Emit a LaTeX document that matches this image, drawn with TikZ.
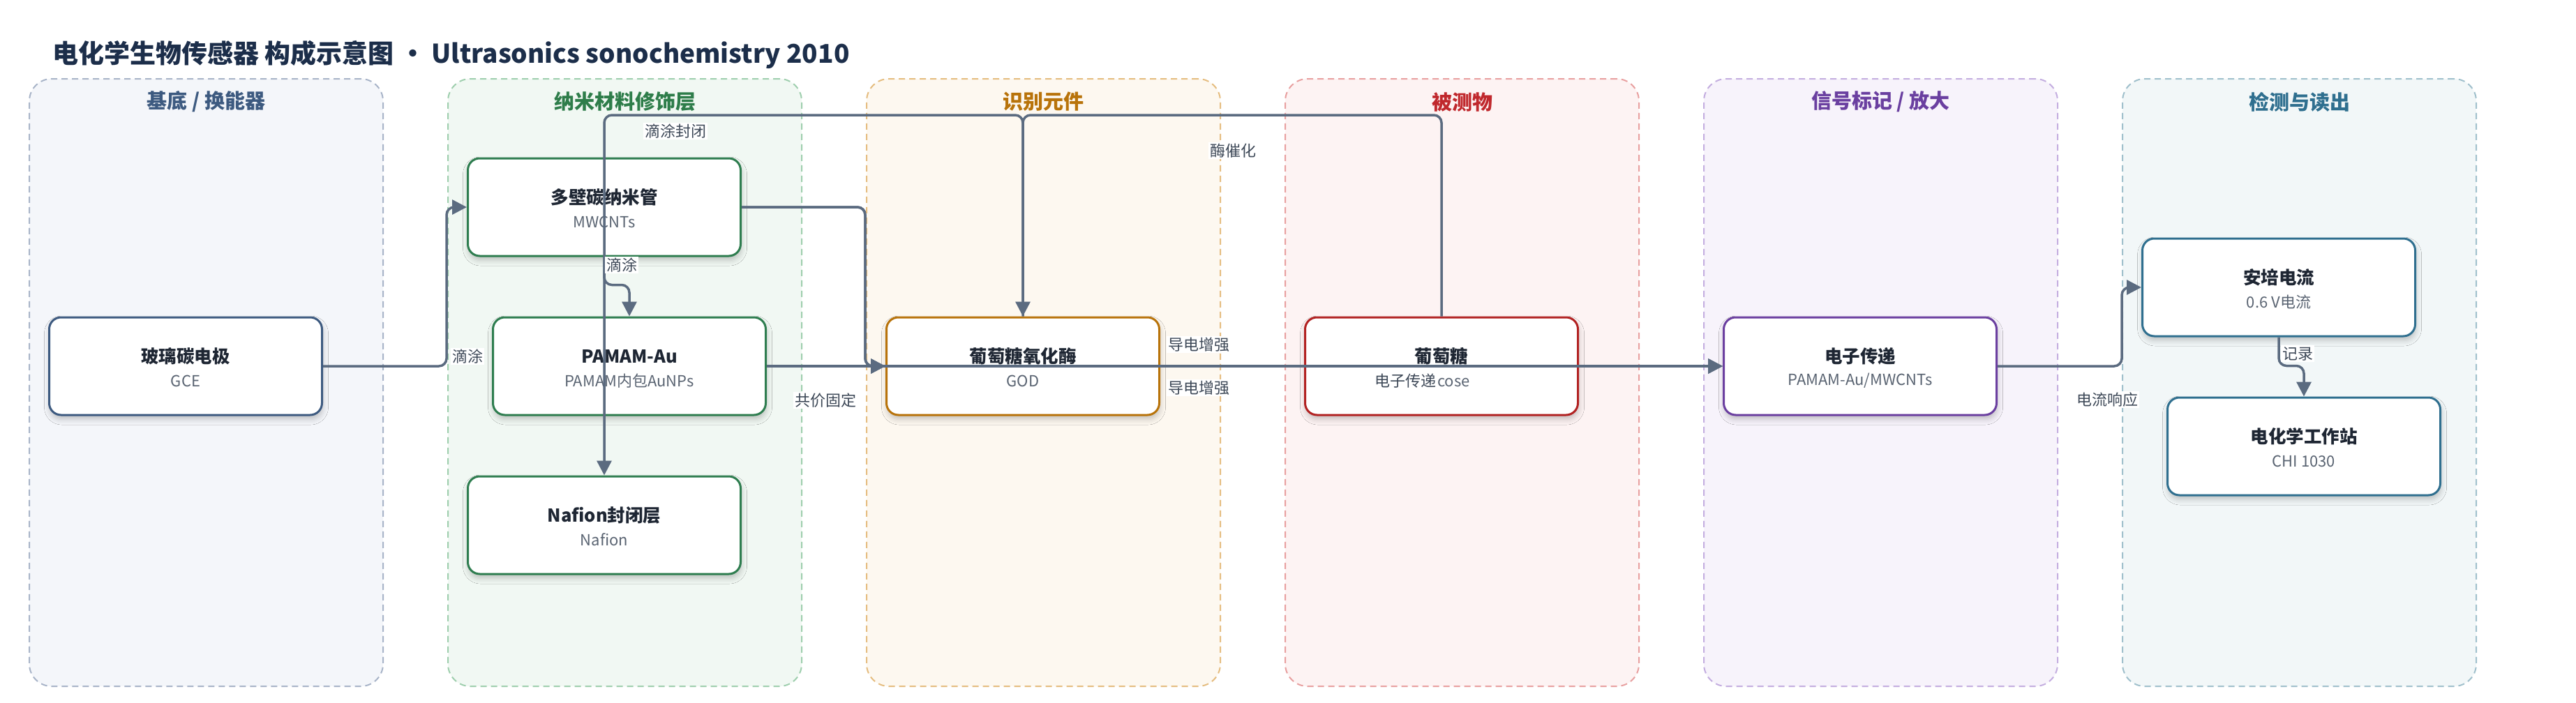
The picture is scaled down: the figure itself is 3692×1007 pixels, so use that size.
\documentclass[tikz,border=0pt]{standalone}
\usepackage{fontspec}
\setmainfont{Noto Sans CJK SC}
\usetikzlibrary{arrows.meta,shadows.blur,calc}
\definecolor{titlec}{HTML}{1C2E4A}
\definecolor{nodet}{HTML}{1E2633}
\definecolor{subc}{HTML}{5A6472}
\definecolor{labc}{HTML}{3D4857}
\definecolor{edgec}{HTML}{5B6B80}
\definecolor{l1f}{HTML}{F4F6FA}\definecolor{l1b}{HTML}{A8B4C8}\definecolor{l1t}{HTML}{3D5A80}
\definecolor{l2f}{HTML}{F1F8F3}\definecolor{l2b}{HTML}{9FCFAE}\definecolor{l2t}{HTML}{2E7D4A}
\definecolor{l3f}{HTML}{FDF8F0}\definecolor{l3b}{HTML}{E5BD80}\definecolor{l3t}{HTML}{B8730A}
\definecolor{l4f}{HTML}{FDF3F3}\definecolor{l4b}{HTML}{E8A0A0}\definecolor{l4t}{HTML}{C0282D}
\definecolor{l5f}{HTML}{F7F3FB}\definecolor{l5b}{HTML}{C4AEE0}\definecolor{l5t}{HTML}{6A3FA0}
\definecolor{l6f}{HTML}{F2F7F8}\definecolor{l6b}{HTML}{A0C0CC}\definecolor{l6t}{HTML}{2F6F8F}
\definecolor{n1}{HTML}{3D5A80}
\definecolor{n2}{HTML}{2E7D4F}
\definecolor{n3}{HTML}{B8730A}
\definecolor{n4}{HTML}{B22222}
\definecolor{n5}{HTML}{6B3FA0}
\definecolor{n6}{HTML}{2F6F8F}
\begin{document}
\begin{tikzpicture}[x=1pt,y=-1pt,
  lane/.style={rectangle, rounded corners=32pt, line width=2pt, dash pattern=on 9pt off 6pt, minimum width=507pt, minimum height=871pt, inner sep=0pt},
  lanettl/.style={font=\fontsize{29}{34}\selectfont\bfseries, inner sep=0pt},
  box/.style={rectangle, rounded corners=17pt, minimum width=391pt, minimum height=140pt, line width=3pt, fill=white, inner sep=0pt,
    blur shadow={shadow xshift=1pt, shadow yshift=-6pt, shadow blur radius=8pt, shadow opacity=22}},
  ttl/.style={font=\fontsize{25.5}{30}\selectfont\bfseries, text=nodet, inner sep=0pt},
  sub/.style={font=\fontsize{22}{26}\selectfont, text=subc, inner sep=0pt},
  conn/.style={draw=edgec, line width=3.5pt, rounded corners=11pt, -{Triangle[length=21pt,width=21pt]}},
  elab/.style={font=\fontsize{22}{26}\selectfont, text=labc, fill=white, inner sep=2pt}
]
\useasboundingbox[fill=white] (0,0) rectangle (3692,1007);

% title
\node[anchor=west, font=\fontsize{37}{44}\selectfont\bfseries, text=titlec, inner sep=0pt] (title) at (75,78)
  {电化学生物传感器 构成示意图 · Ultrasonics sonochemistry 2010};

% lanes
\node[lane, draw=l1b, fill=l1f] (lane1) at (295.5,548.5) {};
\node[lane, draw=l2b, fill=l2f] (lane2) at (895.5,548.5) {};
\node[lane, draw=l3b, fill=l3f] (lane3) at (1495.5,548.5) {};
\node[lane, draw=l4b, fill=l4f] (lane4) at (2095.5,548.5) {};
\node[lane, draw=l5b, fill=l5f] (lane5) at (2695.5,548.5) {};
\node[lane, draw=l6b, fill=l6f] (lane6) at (3295.5,548.5) {};
\node[lanettl, text=l1t] (lt1) at (295.5,146) {基底 / 换能器};
\node[lanettl, text=l2t] (lt2) at (895.5,146) {纳米材料修饰层};
\node[lanettl, text=l3t] (lt3) at (1495.5,146) {识别元件};
\node[lanettl, text=l4t] (lt4) at (2095.5,146) {被测物};
\node[lanettl, text=l5t] (lt5) at (2695.5,146) {信号标记 / 放大};
\node[lanettl, text=l6t] (lt6) at (3295.5,146) {检测与读出};

% boxes
\node[box, draw=n1] (gce) at (266,525) {};
\node[box, draw=n2] (mwcnt) at (866,297) {};
\node[box, draw=n2] (pamam) at (902,525) {};
\node[box, draw=n2] (nafion) at (866,753) {};
\node[box, draw=n3] (god) at (1466,525) {};
\node[box, draw=n4] (glu) at (2066,525) {};
\node[box, draw=n5] (etrans) at (2666,525) {};
\node[box, draw=n6] (amp) at (3266,412) {};
\node[box, draw=n6] (chi) at (3302,640) {};

\node[ttl] (gce-t) at ($(gce)+(0,-14)$) {玻璃碳电极};
\node[sub] (gce-s) at ($(gce)+(0,21)$) {GCE};
\node[ttl] (mwcnt-t) at ($(mwcnt)+(0,-14)$) {多壁碳纳米管};
\node[sub] (mwcnt-s) at ($(mwcnt)+(0,21)$) {MWCNTs};
\node[ttl] (pamam-t) at ($(pamam)+(0,-14)$) {PAMAM-Au};
\node[sub] (pamam-s) at ($(pamam)+(0,21)$) {PAMAM内包AuNPs};
\node[ttl] (nafion-t) at ($(nafion)+(0,-14)$) {Nafion封闭层};
\node[sub] (nafion-s) at ($(nafion)+(0,21)$) {Nafion};
\node[ttl] (god-t) at ($(god)+(0,-14)$) {葡萄糖氧化酶};
\node[sub] (god-s) at ($(god)+(0,21)$) {GOD};
\node[ttl] (glu-t) at ($(glu)+(0,-14)$) {葡萄糖};
\node[sub] (glu-s) at ($(glu)+(0,21)$) {Glucose};
\node[ttl] (etrans-t) at ($(etrans)+(0,-14)$) {电子传递};
\node[sub] (etrans-s) at ($(etrans)+(0,21)$) {PAMAM-Au/MWCNTs};
\node[ttl] (amp-t) at ($(amp)+(0,-14)$) {安培电流};
\node[sub] (amp-s) at ($(amp)+(0,21)$) {0.6 V电流};
\node[ttl] (chi-t) at ($(chi)+(0,-14)$) {电化学工作站};
\node[sub] (chi-s) at ($(chi)+(0,21)$) {CHI 1030};

% waypoints
\coordinate (j1) at ($(mwcnt.west)+(-29,0)$);
\coordinate (j2) at ($(pamam.north)+(0,-45)$);
\coordinate (j3) at ($(god.west)+(-29,0)$);
\coordinate (j4) at ($(amp.west)+(-28,0)$);
\coordinate (j5) at ($(chi.north)+(0,-44)$);
\coordinate (topy) at (0,165);

% connectors
\draw[conn] (gce.east) -| (j1) -- (mwcnt.west);
\draw[conn] (mwcnt.south) |- (j2) -- (pamam.north);
\draw[conn] (mwcnt.east) -| (j3) -- (god.west);
\draw[conn] (mwcnt.east) -| (j3) -- (etrans.west);
\draw[conn] (pamam.east) -- (god.west);
\draw[conn] (pamam.east) -- (etrans.west);
\draw[conn] (god.north) |- (nafion.north |- topy) -- (nafion.north);
\draw[conn] (glu.north) |- (god.north |- topy) -- (god.north);
\draw[conn] (glu.east) -- (etrans.west);
\draw[conn] (etrans.east) -| (j4) -- (amp.west);
\draw[conn] (amp.south) |- (j5) -- (chi.north);

% connector labels
\node[elab] (e1) at (670,511) {滴涂};
\node[elab] (e2) at (891,380) {滴涂};
\node[elab] (e3) at (1183,574) {共价固定};
\node[elab] (e4) at (968,188) {滴涂封闭};
\node[elab] (e5) at (1767,216) {酶催化};
\node[elab] (e6) at (1718,494) {导电增强};
\node[elab] (e7) at (1718,556) {导电增强};
\node[elab] (e8) at (2014,546) {电子传递};
\node[elab] (e9) at (3020,573) {电流响应};
\node[elab] (e10) at (3293,507) {记录};
\end{tikzpicture}
\end{document}
